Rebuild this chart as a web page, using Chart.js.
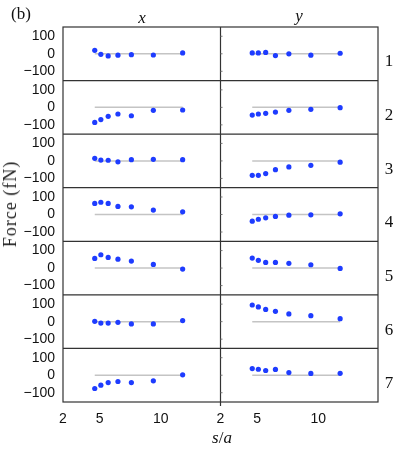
<!DOCTYPE html>
<html>
<head>
<meta charset="utf-8">
<script src="https://cdn.jsdelivr.net/npm/chart.js@4"></script>
<style>
  html, body { margin: 0; padding: 0; background: #fff; }
  #wrap { position: relative; width: 399px; height: 449px; overflow: hidden; }
  #chart { position: absolute; left: 0; top: 0; }
  .lbl {
    position: absolute;
    font-family: "Liberation Serif", serif;
    font-size: 17px;
    line-height: 1;
    color: #111;
    transform: translate(-50%, -50%);
    white-space: nowrap;
  }
  .it { font-style: italic; }
</style>
</head>
<body>
<div id="wrap">
  <canvas id="chart" width="399" height="449"></canvas>
  <div class="lbl" style="left:21px; top:13px;">(b)</div>
  <div class="lbl it" style="left:142px; top:17px;">x</div>
  <div class="lbl it" style="left:299px; top:15px;">y</div>
  <div class="lbl" style="left:389px; top:60px;">1</div>
  <div class="lbl" style="left:389px; top:114px;">2</div>
  <div class="lbl" style="left:389px; top:168px;">3</div>
  <div class="lbl" style="left:389px; top:221px;">4</div>
  <div class="lbl" style="left:389px; top:275px;">5</div>
  <div class="lbl" style="left:389px; top:329px;">6</div>
  <div class="lbl" style="left:389px; top:382px;">7</div>
  <div class="lbl" style="left:10px; top:204px; font-size:18px; letter-spacing:1px; color:#222; transform: translate(-50%, -50%) rotate(-90deg);">Force (fN)</div>
  <div class="lbl" style="left:222px; top:437px;"><span class="it">s</span>/<span class="it">a</span></div>
</div>
<script>
/*
 DATA
*/
const sVals = [4.6, 5.1, 5.7, 6.5, 7.6, 9.4, 11.8];

// force on the x component, one row per panel 1..7
const forceX = [
  [20, -3, -12, -8, -5, -7, 5],
  [-86, -70, -51, -38, -48, -17, -15],
  [15, 5, 4, -5, 7, 9, 7],
  [63, 70, 63, 46, 44, 25, 15],
  [55, 76, 61, 51, 40, 21, -6],
  [2, -8, -8, -4, -13, -13, 6],
  [-76, -57, -42, -36, -42, -32, 2]
];

// force on the y component
const forceY = [
  [5, 5, 8, -10, 0, -8, 3],
  [-44, -38, -34, -27, -17, -11, -2],
  [-82, -82, -72, -50, -34, -25, -7],
  [-38, -27, -19, -11, -4, -2, 4],
  [57, 44, 32, 32, 27, 19, -2],
  [95, 84, 70, 59, 44, 34, 17],
  [38, 34, 27, 33, 15, 10, 11]
];

const yTicks = [-100, 0, 100];
const xTicks = [2, 5, 10];
const yRange = [-153, 153];
const xRange = [2, 14.9];

const DOT = "rgb(30, 60, 255)";
const ZERO = "#c4c4c4";
const FRAME = "#333";

/*
 DATASETS
*/
const datasets = [];
[forceX, forceY].forEach((rows, col) => {
  rows.forEach((vals, row) => {
    datasets.push({
      type: "line",
      data: [
        { x: sVals[0], y: 0 },
        { x: sVals[sVals.length - 1], y: 0 }
      ],
      xAxisID: "x" + col,
      yAxisID: "y" + row,
      borderColor: ZERO,
      borderWidth: 1.5,
      pointRadius: 0,
      order: 2
    });
    datasets.push({
      type: "scatter",
      data: vals.map((v, i) => ({ x: sVals[i], y: v })),
      xAxisID: "x" + col,
      yAxisID: "y" + row,
      backgroundColor: DOT,
      borderColor: DOT,
      borderWidth: 0,
      pointRadius: 2.6,
      order: 1
    });
  });
});

/*
 SCALES
 stacked left axes get placed bottom-up, so define row 7 first
*/
const scales = {};
for (let r = 6; r >= 0; r--) {
  scales["y" + r] = {
    type: "linear",
    position: "left",
    stack: "rows",
    min: yRange[0],
    max: yRange[1],
    afterBuildTicks: s => { s.ticks = yTicks.map(v => ({ value: v })); },
    afterFit: s => { s.width = 63; },
    grid: { display: false, drawTicks: false },
    border: { display: false },
    ticks: {
      autoSkip: false,
      padding: 8,
      color: "#111",
      font: { family: "Liberation Sans", size: 14 },
      callback: v => (v < 0 ? "\u2212" + Math.abs(v) : String(v))
    }
  };
}
for (let c = 0; c < 2; c++) {
  scales["x" + c] = {
    type: "linear",
    position: "bottom",
    stack: "cols",
    min: xRange[0],
    max: xRange[1],
    afterBuildTicks: s => { s.ticks = xTicks.map(v => ({ value: v })); },
    afterFit: s => { s.height = 47; },
    grid: { display: false, drawTicks: false },
    border: { display: false },
    ticks: {
      autoSkip: false,
      padding: 9,
      maxRotation: 0,
      color: "#111",
      font: { family: "Liberation Sans", size: 14 }
    }
  };
}

/*
 FRAME PLUGIN - panel borders and right column ticks
*/
const framePlugin = {
  id: "frame",
  afterDraw(chart) {
    const ctx = chart.ctx;
    const a = chart.chartArea;
    const x1 = chart.scales.x1;
    ctx.save();
    ctx.strokeStyle = FRAME;
    ctx.lineWidth = 1.2;
    ctx.strokeRect(a.left, a.top, a.right - a.left, a.bottom - a.top);
    ctx.beginPath();
    for (let r = 0; r < 7; r++) {
      const t = chart.scales["y" + r].top;
      if (t - a.top < 2) continue;
      ctx.moveTo(a.left, t);
      ctx.lineTo(a.right, t);
    }
    ctx.moveTo(x1.left, a.top);
    ctx.lineTo(x1.left, a.bottom + 4);
    ctx.stroke();

    ctx.strokeStyle = "#777";
    ctx.lineWidth = 1;
    ctx.beginPath();
    for (let r = 0; r < 7; r++) {
      const ys = chart.scales["y" + r];
      yTicks.forEach(t => {
        const p = ys.getPixelForValue(t);
        ctx.moveTo(x1.left, p);
        ctx.lineTo(x1.left + 2, p);
      });
    }
    ctx.stroke();
    ctx.restore();
  }
};

/*
 CHART
*/
new Chart(document.getElementById("chart").getContext("2d"), {
  type: "scatter",
  data: { datasets },
  options: {
    responsive: false,
    animation: false,
    devicePixelRatio: 1,
    layout: { padding: { top: 27, right: 21, left: 0, bottom: 0 } },
    plugins: { legend: { display: false }, tooltip: { enabled: false } },
    scales
  },
  plugins: [framePlugin]
});
</script>
</body>
</html>
